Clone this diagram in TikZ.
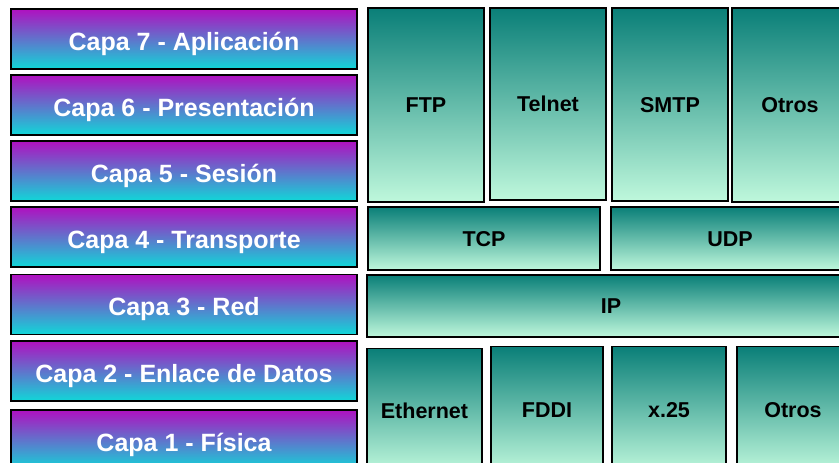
\documentclass[tikz,border=0pt]{standalone}
\usepackage{fontspec}
\setmainfont{Liberation Sans}
\definecolor{capaarriba}{HTML}{B010C0}
\definecolor{capaabajo}{HTML}{10D8D8}
\definecolor{protoarriba}{HTML}{0A7F78}
\definecolor{protoabajo}{HTML}{BFF8DC}
\tikzset{
  capa/.style={draw=black, line width=1.5pt, top color=capaarriba, bottom color=capaabajo,
    text=white, font=\fontsize{25}{28}\selectfont\bfseries, inner sep=0pt,
    text height=23pt, text depth=1pt, minimum width=346pt, minimum height=60pt},
  proto/.style={draw=black, line width=1.5pt, top color=protoarriba, bottom color=protoabajo,
    text=black, font=\fontsize{21.5}{26}\selectfont\bfseries, inner sep=0pt,
    text height=16.5pt, text depth=1pt}
}
\begin{document}
\begin{tikzpicture}[x=1pt,y=-1pt]
\useasboundingbox (0,0) rectangle (839,463);
\clip (0,0) rectangle (839,463);
% capas OSI
\foreach \n/\y/\t in {7/39/Capa 7 - Aplicación, 6/105/Capa 6 - Presentación, 5/171/Capa 5 - Sesión,
  4/237/Capa 4 - Transporte, 3/304.5/Capa 3 - Red, 2/371/Capa 2 - Enlace de Datos, 1/440/Capa 1 - Física}
  \node[capa] (capa\n) at (184,\y) {\t};
% aplicacion
\node[proto, minimum width=116pt, minimum height=194pt] (ftp) at (426,105) {FTP};
\node[proto, minimum width=116pt, minimum height=192pt] (telnet) at (548,104) {Telnet};
\node[proto, minimum width=116pt, minimum height=193pt] (smtp) at (670,104.5) {SMTP};
\node[proto, minimum width=116pt, minimum height=194pt] (otrosapl) at (790,105) {Otros};
% transporte y red
\node[proto, minimum width=232pt, minimum height=63pt] (tcp) at (484,238.5) {TCP};
\node[proto, minimum width=238pt, minimum height=63pt] (udp) at (730,238.5) {UDP};
\node[proto, minimum width=488pt, minimum height=62pt] (ip) at (611,306) {IP};
% enlace y fisica
\node[proto, minimum width=115pt, minimum height=124pt] (ethernet) at (424.5,410.5) {Ethernet};
\node[proto, minimum width=112pt, minimum height=126pt] (fddi) at (547,409.5) {FDDI};
\node[proto, minimum width=114pt, minimum height=126pt] (x25) at (669,409.5) {x.25};
\node[proto, minimum width=112pt, minimum height=126pt] (otrosred) at (793,409.5) {Otros};
\end{tikzpicture}
\end{document}
